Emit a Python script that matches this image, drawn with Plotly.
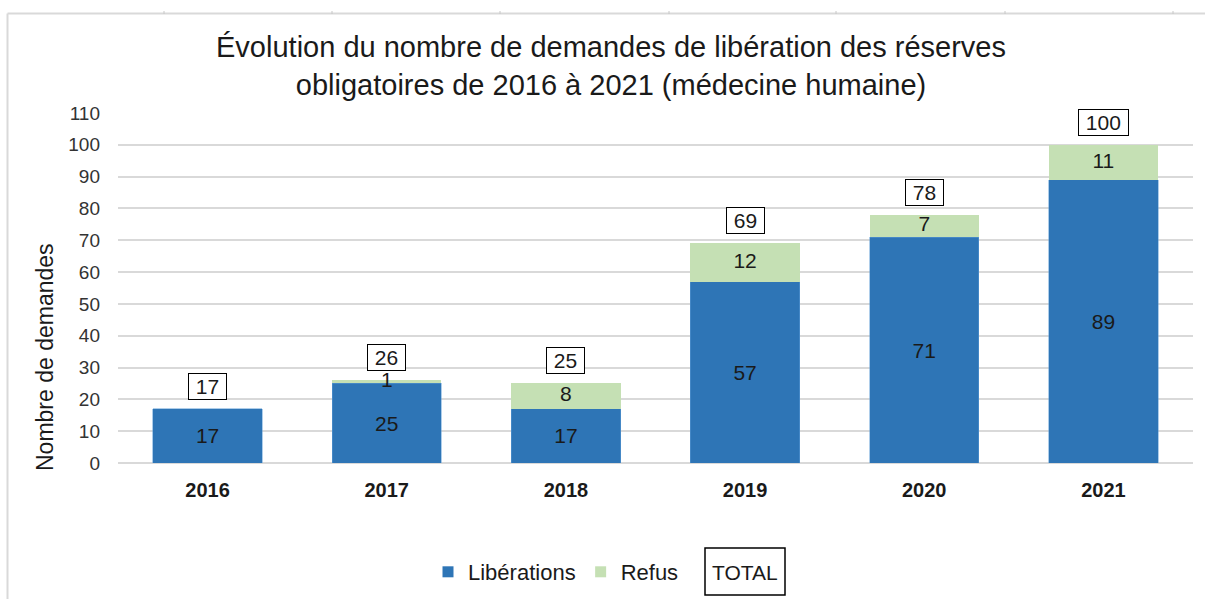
import plotly.graph_objects as go

years = ["2016", "2017", "2018", "2019", "2020", "2021"]
liberations = [17, 25, 17, 57, 71, 89]
refus = [0, 1, 8, 12, 7, 11]
totals = [17, 26, 25, 69, 78, 100]
y_ticks = [0, 10, 20, 30, 40, 50, 60, 70, 80, 90, 100, 110]

BLUE = "#2E75B6"
GREEN = "#C5E0B4"
FONT = "Liberation Sans, Arial, sans-serif"
TXT = "#1a1a1a"

# plot area geometry in pixels
W, H = 1205, 599
L, R, T, B = 118, 12, 113, 136
pw, ph = W - L - R, H - T - B

def px_x(p):
    return (p - L) / pw

def px_y(p):
    return (H - B - p) / ph

fig = go.Figure()
fig.add_trace(go.Bar(
    x=years, y=liberations, name="Libérations", showlegend=False,
    marker=dict(color=BLUE, line=dict(color="#5B9BD5", width=0.5)),
    text=[str(v) for v in liberations], textposition="inside",
    insidetextanchor="middle", textfont=dict(color=TXT, size=21, family=FONT),
    constraintext="none", hoverinfo="skip",
))
fig.add_trace(go.Bar(
    x=years, y=refus, name="Refus", showlegend=False,
    marker=dict(color=GREEN, line=dict(color=GREEN, width=0)),
    hoverinfo="skip",
))
# Refus labels (centered on the segment)
fig.add_trace(go.Scatter(
    x=years, y=[l + r / 2 for l, r in zip(liberations, refus)],
    text=[str(r) if r > 0 else "" for r in refus], mode="text",
    textfont=dict(color=TXT, size=21, family=FONT),
    showlegend=False, hoverinfo="skip",
))
# legend entries with small square symbols
for name, col in [("Libérations", BLUE), ("Refus", GREEN)]:
    fig.add_trace(go.Scatter(
        x=[None], y=[None], mode="markers", name=name,
        marker=dict(symbol="square", size=11, color=col), hoverinfo="skip",
    ))

annotations = []
for i, t in enumerate(totals):
    annotations.append(dict(
        x=i, y=t, xref="x", yref="y", text="&nbsp;" + str(t) + "&nbsp;", showarrow=False,
        yanchor="bottom", yshift=9, bordercolor="#000000", borderwidth=1,
        bgcolor="white", borderpad=1,
        font=dict(size=21, color=TXT, family=FONT),
    ))
# TOTAL legend text
annotations.append(dict(
    x=px_x(745), y=px_y(572), xref="paper", yref="paper", text="TOTAL",
    showarrow=False, xanchor="center", yanchor="middle",
    font=dict(size=21, color=TXT, family=FONT),
))
# y-axis title
annotations.append(dict(
    x=px_x(45), y=px_y(357), xref="paper", yref="paper", text="Nombre de demandes",
    showarrow=False, textangle=-90, xanchor="center", yanchor="middle",
    font=dict(size=23, color=TXT, family=FONT),
))

shapes = [
    dict(type="line", xref="paper", yref="paper", x0=px_x(7.5), x1=px_x(1205),
         y0=px_y(13.5), y1=px_y(13.5), line=dict(color="#D9D9D9", width=2)),
    dict(type="line", xref="paper", yref="paper", x0=px_x(7.5), x1=px_x(7.5),
         y0=px_y(13.5), y1=px_y(599), line=dict(color="#D9D9D9", width=2)),
    dict(type="rect", xref="paper", yref="paper", x0=px_x(705), x1=px_x(785),
         y0=px_y(595), y1=px_y(548), line=dict(color="#000000", width=1.5),
         fillcolor="rgba(0,0,0,0)"),
]
for tx in [164, 332, 500, 669, 836, 1005, 1173]:
    shapes.append(dict(type="line", xref="paper", yref="paper", x0=px_x(tx), x1=px_x(tx),
                       y0=px_y(11), y1=px_y(14), line=dict(color="#C8C8C8", width=1)))

fig.update_layout(
    width=W, height=H, barmode="stack", bargap=0.39,
    margin=dict(l=L, r=R, t=T, b=B, autoexpand=False),
    paper_bgcolor="white", plot_bgcolor="white",
    font=dict(family=FONT, color=TXT),
    title=dict(
        text="Évolution du nombre de demandes de libération des réserves<br>obligatoires de 2016 à 2021 (médecine humaine)",
        x=px_x(611), xanchor="center", xref="paper", y=1 - 57 / H, yanchor="middle",
        font=dict(size=29, color=TXT, family=FONT),
    ),
    xaxis=dict(
        type="category", range=[-0.5, 5.5], showgrid=False, showline=False, ticks="",
        tickvals=years, ticktext=["<b>" + y + "</b>" for y in years],
        tickfont=dict(size=20, color=TXT, family=FONT), ticklabelstandoff=13,
    ),
    yaxis=dict(
        range=[0, 110], tickvals=y_ticks, showgrid=True, gridcolor="#D9D9D9", gridwidth=1.5,
        zeroline=True, zerolinecolor="#D9D9D9", zerolinewidth=1.5,
        tickfont=dict(size=19, color="#333333", family=FONT), ticks="", ticklabelstandoff=17,
    ),
    legend=dict(
        orientation="h", x=px_x(428), xanchor="left", y=px_y(572), yanchor="middle",
        font=dict(size=22, color=TXT, family=FONT), itemwidth=30,
        traceorder="normal",
    ),
    annotations=annotations, shapes=shapes,
)

fig.write_html("out.html", config={"displayModeBar": False},
               post_script="document.body.style.margin='0';document.body.style.padding='0';")
